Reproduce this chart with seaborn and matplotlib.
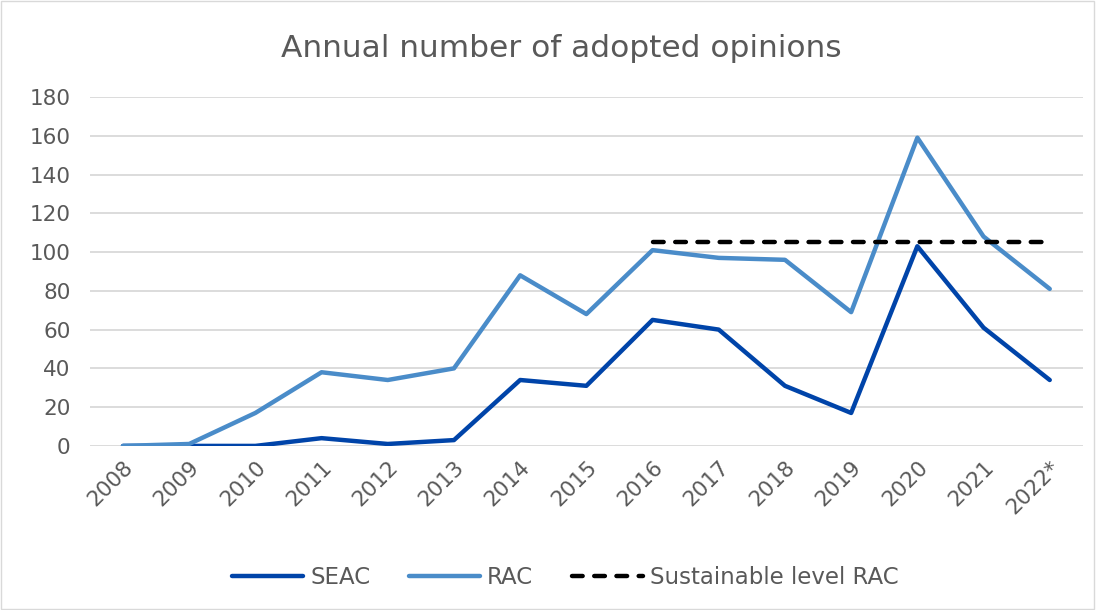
import matplotlib
matplotlib.use("Agg")
import matplotlib.pyplot as plt
import seaborn as sns
import pandas as pd

years = ["2008", "2009", "2010", "2011", "2012", "2013", "2014", "2015",
         "2016", "2017", "2018", "2019", "2020", "2021", "2022*"]
seac = [0, 0, 0, 4, 1, 3, 34, 31, 65, 60, 31, 17, 103, 61, 34]
rac = [0, 1, 17, 38, 34, 40, 88, 68, 101, 97, 96, 69, 159, 108, 81]
sustainable_years = ["2016", "2017", "2018", "2019", "2020", "2021", "2022*"]
sustainable_rac = [105, 105, 105, 105, 105, 105, 105]

sns.set_theme(style="white")
plt.rcParams["font.family"] = "sans-serif"
plt.rcParams["font.sans-serif"] = ["DejaVu Sans"]
TEXT = "#595959"

pos = {y: i for i, y in enumerate(years)}
df = pd.DataFrame({"x": range(len(years)), "SEAC": seac, "RAC": rac})
df_sus = pd.DataFrame({"x": [pos[y] for y in sustainable_years], "val": sustainable_rac})

fig = plt.figure(figsize=(10.96, 6.1), dpi=100)
ax = fig.add_axes([0.082, 0.269, 0.906, 0.572])

LW = 3.2
sns.lineplot(data=df, x="x", y="SEAC", ax=ax, color="#0044A9", lw=LW,
             label="SEAC", solid_capstyle="round", solid_joinstyle="round")
sns.lineplot(data=df, x="x", y="RAC", ax=ax, color="#4A8CC9", lw=LW,
             label="RAC", solid_capstyle="round", solid_joinstyle="round")
sns.lineplot(data=df_sus, x="x", y="val", ax=ax, color="black", lw=LW,
             label="Sustainable level RAC", dashes=False)
ax.lines[-1].set_linestyle((0, (2.4, 2.6)))
ax.lines[-1].set_dash_capstyle("round")

ax.set_xlim(-0.5, len(years) - 0.5)
ax.set_ylim(0, 180)
ax.set_yticks(range(0, 181, 20))
ax.set_xticks(range(len(years)))
ax.set_xticklabels(years, rotation=45, ha="right", rotation_mode="anchor")
ax.tick_params(axis="both", colors=TEXT, length=0)
ax.tick_params(axis="y", labelsize=15.5, pad=14)
ax.tick_params(axis="x", labelsize=15.5, pad=8)
ax.set_xlabel("")
ax.set_ylabel("")
ax.yaxis.grid(True, color="#D9D9D9", lw=1.3)
ax.set_axisbelow(True)
for s in ax.spines.values():
    s.set_visible(False)

fig.suptitle("Annual number of adopted opinions", x=0.512, y=0.945,
             fontsize=22.5, color=TEXT)

leg = ax.legend(loc="upper center", bbox_to_anchor=(0.479, -0.285), ncol=3,
                frameon=False, fontsize=16.5, handlelength=3.1,
                columnspacing=1.7, handletextpad=0.3)
for t in leg.get_texts():
    t.set_color(TEXT)

fig.patches.append(plt.Rectangle((0.001, 0.001), 0.997, 0.997, transform=fig.transFigure,
                                 fill=False, edgecolor="#D9D9D9", lw=1))

fig.savefig("out.png", dpi=100)
